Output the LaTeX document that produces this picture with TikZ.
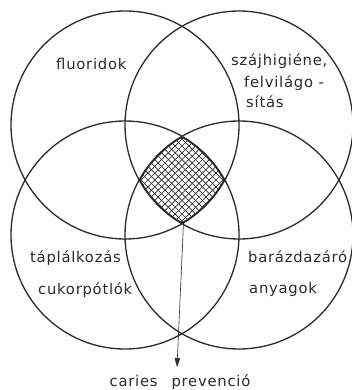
\documentclass[tikz,border=0pt]{standalone}
\usepackage{fontspec}
\setmainfont{DejaVu Sans}[LetterSpace=5]
\usetikzlibrary{arrows.meta}
\definecolor{ink}{HTML}{2B2B2B}
\tikzset{
  ring/.style={draw=ink, line width=1.3pt},
  hatchline/.style={draw=ink, line width=0.65pt},
  lbl/.style={anchor=base west, inner sep=0pt, text=ink, font=\fontsize{14.8}{17}\selectfont},
  pointer/.style={draw=ink, line width=0.6pt, -{Triangle[length=9pt,width=5.5pt]}}
}
\begin{document}
\begin{tikzpicture}[x=1pt,y=-1pt]
\useasboundingbox (0,0) rectangle (352,390);
\coordinate (TL) at (125,125);
\coordinate (TR) at (239,125);
\coordinate (BL) at (125,235);
\coordinate (BR) at (239,235);
% hatched common region
\begin{scope}
  \clip (TL) circle[radius=114pt];
  \clip (TR) circle[radius=114pt];
  \clip (BL) circle[radius=114pt];
  \clip (BR) circle[radius=114pt];
  \foreach \i in {-16,...,16} {
    \draw[hatchline] (182+\i*6.8-70,110) -- ++(140,140);
    \draw[hatchline] (182+\i*6.8+70,110) -- ++(-140,140);
  }
  \foreach \c in {TL,TR,BL,BR} \draw[draw=ink, line width=2.6pt] (\c) circle[radius=114pt];
\end{scope}
\foreach \c in {TL,TR,BL,BR} \draw[ring] (\c) circle[radius=114pt];
% labels
\node[lbl] (fl) at (56,70) {fluoridok};
\node[lbl] (sz1) at (231,66) {szájhigiéne,};
\node[lbl] (sz2) at (244,88) {felvilágo -};
\node[lbl] (sz3) at (246,108) {sítás};
\node[lbl] (ta1) at (30,262) {táplálkozás};
\node[lbl] (ta2) at (38,294) {cukorpótlók};
\node[lbl] (ba1) at (248,262) {barázdazáró};
\node[lbl] (ba2) at (249,293) {anyagok};
\node[lbl, anchor=base] (cp) at (180,386) {caries\hspace{14pt}prevenció};
% arrow
\coordinate (hb) at (183.5,223);
\coordinate (tip) at (177,367);
\draw[pointer] (hb) -- (tip);
\end{tikzpicture}
\end{document}
